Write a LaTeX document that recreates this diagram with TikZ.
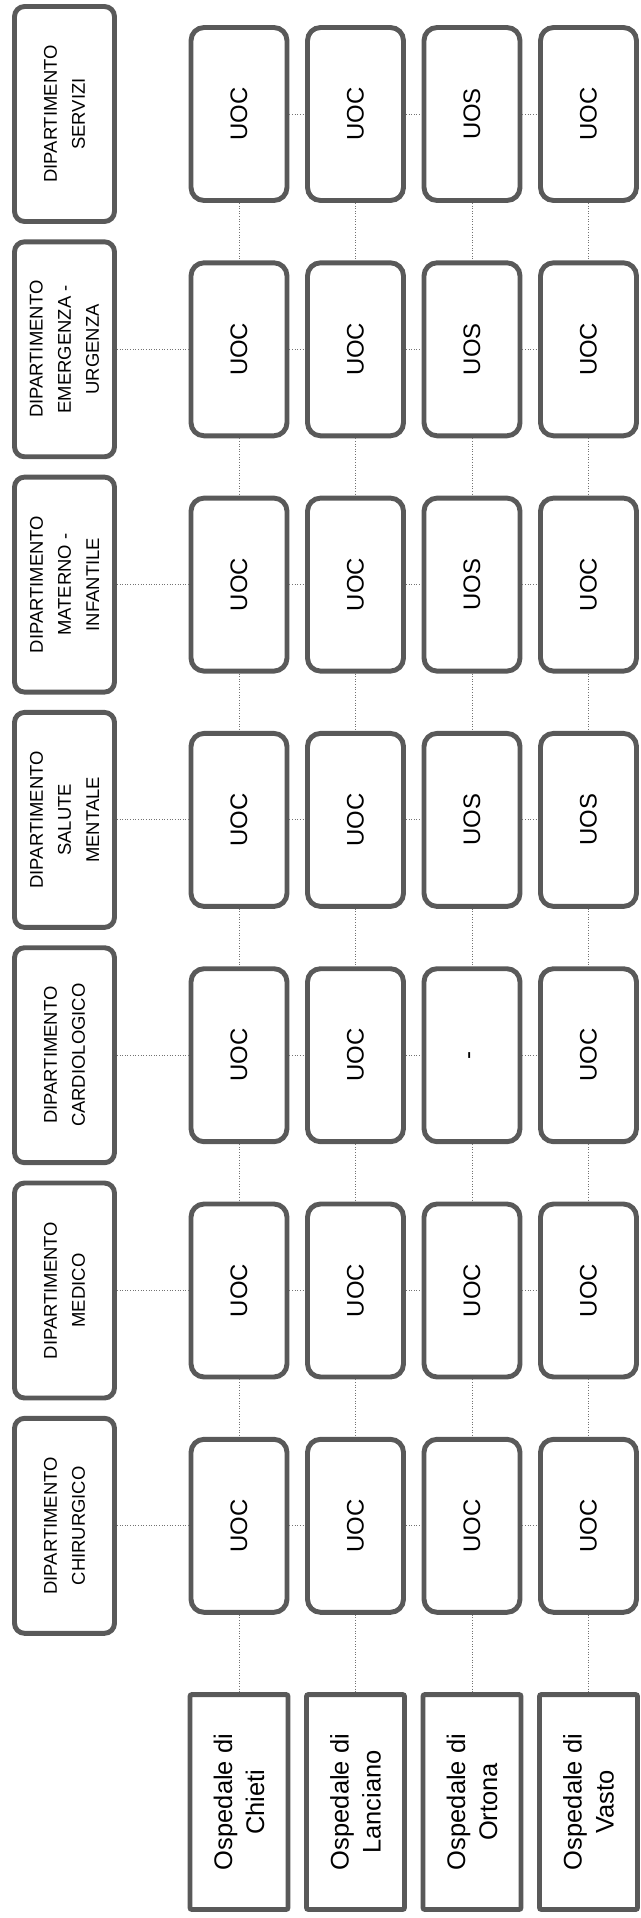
\documentclass[tikz,border=0pt]{standalone}
\usepackage{fontspec}
\setmainfont{Liberation Sans}
\begin{document}
\begin{tikzpicture}[x=0.02cm,y=-0.02cm,
  unit/.style={draw=black!65,line width=2.8pt,rounded corners=0.26cm,rotate=90,align=center,inner sep=0pt,
    minimum width=3.46cm,minimum height=1.92cm,font=\fontsize{13.6}{16}\selectfont},
  dept/.style={unit,rounded corners=0.2cm,minimum width=4.3cm,minimum height=2cm,font=\fontsize{10.5}{16}\selectfont},
  osp/.style={unit,rounded corners=0.04cm,minimum width=4.3cm,minimum height=1.96cm,font=\fontsize{14.5}{18.2}\selectfont},
  link/.style={draw=black!55,densely dotted,line width=0.5pt}]
\useasboundingbox (0,0) rectangle (640,1918);
% dipartimenti
\foreach \t [count=\i] in {{DIPARTIMENTO\\SERVIZI},{DIPARTIMENTO\\EMERGENZA -\\URGENZA},
  {DIPARTIMENTO\\MATERNO -\\INFANTILE},{DIPARTIMENTO\\SALUTE\\MENTALE},
  {DIPARTIMENTO\\CARDIOLOGICO},{DIPARTIMENTO\\MEDICO},{DIPARTIMENTO\\CHIRURGICO}}
  \node[dept] (d\i) at (64.5,{114+235.3*(\i-1)}) {\t};
% UOC / UOS
\foreach \row [count=\i] in {{UOC,UOC,UOS,UOC},{UOC,UOC,UOS,UOC},{UOC,UOC,UOS,UOC},
  {UOC,UOC,UOS,UOS},{UOC,UOC,-,UOC},{UOC,UOC,UOC,UOC},{UOC,UOC,UOC,UOC}}
  \foreach \t [count=\j] in \row
    \node[unit] (u\i-\j) at ({239+116.5*(\j-1)},{114+235.3*(\i-1)}) {\t};
% ospedali
\foreach \t [count=\j] in {{Ospedale di\\Chieti},{Ospedale di\\Lanciano},{Ospedale di\\Ortona},{Ospedale di\\Vasto}}
  \node[osp] (h\j) at ({239+116.5*(\j-1)},1802) {\t};
% collegamenti
\foreach \i in {2,...,7}
  \draw[link] (d\i.south) -- (u\i-1.north);
\foreach \i in {1,...,7}
  \foreach \j in {1,2,3}{
    \pgfmathtruncatemacro\k{\j+1}
    \draw[link] (u\i-\j.south) -- (u\i-\k.north);
  }
\foreach \i in {1,...,6}
  \foreach \j in {1,...,4}{
    \pgfmathtruncatemacro\k{\i+1}
    \draw[link] (u\i-\j.west) -- (u\k-\j.east);
  }
\foreach \j in {1,...,4}
  \draw[link] (u7-\j.west) -- (h\j.east);
\end{tikzpicture}
\end{document}
